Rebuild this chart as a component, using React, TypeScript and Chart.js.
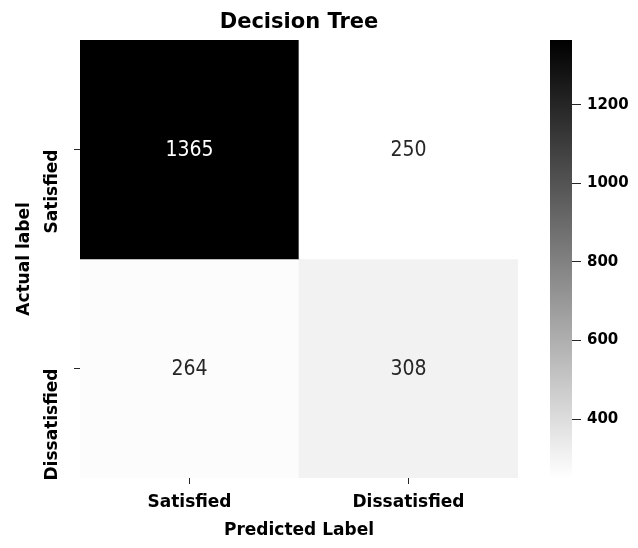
import React, { useEffect, useRef } from 'react';
import { Chart, registerables } from 'chart.js';

Chart.register(...registerables);

// ---- data ----
const predictedLabels = ['Satisfied', 'Dissatisfied'];
const actualLabels = ['Satisfied', 'Dissatisfied'];
const rowSatisfied = [1365, 250];
const rowDissatisfied = [264, 308];
const matrixRows = [rowSatisfied, rowDissatisfied];
const colorbarTicks = [400, 600, 800, 1000, 1200];
const chartTitle = 'Decision Tree';
const xTitle = 'Predicted Label';
const yTitle = 'Actual label';

const allValues = matrixRows.flat();
const vmin = Math.min(...allValues);
const vmax = Math.max(...allValues);

function grayLevel(v: number): number {
  const t = (v - vmin) / (vmax - vmin);
  return Math.round(255 * (1 - t));
}
function grayFor(v: number): string {
  const g = grayLevel(v);
  return `rgb(${g},${g},${g})`;
}

const FONT = 'DejaVu Sans';
const TICK_COLOR = '#262626';

export default function App() {
  const mainRef = useRef<HTMLCanvasElement | null>(null);
  const cbRef = useRef<HTMLCanvasElement | null>(null);

  useEffect(() => {
    Chart.defaults.font.family = FONT;
    const nRows = matrixRows.length;

    const annotate = {
      id: 'annotate',
      afterDatasetsDraw(chart: any) {
        const ctx = chart.ctx;
        ctx.save();
        ctx.font = `21px "DejaVu Sans Condensed", "DejaVu Sans", sans-serif`;
        ctx.textAlign = 'center';
        ctx.textBaseline = 'middle';
        chart.data.datasets.forEach((_ds: any, i: number) => {
          const meta = chart.getDatasetMeta(i);
          meta.data.forEach((bar: any, j: number) => {
            const v = matrixRows[i][j];
            const { x, y, base } = bar.getProps(['x', 'y', 'base'], true);
            ctx.fillStyle = grayLevel(v) < 128 ? '#ffffff' : TICK_COLOR;
            ctx.fillText(String(v), x, (y + base) / 2 + 1);
          });
        });
        ctx.restore();
      },
    };

    const main = new Chart(mainRef.current as HTMLCanvasElement, {
      type: 'bar',
      data: {
        labels: predictedLabels,
        datasets: matrixRows.map((row, i) => ({
          label: actualLabels[i],
          data: row.map(() => [nRows - 1 - i, nRows - i]),
          backgroundColor: row.map(grayFor),
          borderWidth: 0,
          grouped: false,
          barPercentage: 1,
          categoryPercentage: 1,
        })) as any,
      },
      options: {
        animation: false,
        responsive: false,
        layout: { padding: { left: 0, top: 0, right: 120, bottom: 0 } },
        plugins: { legend: { display: false }, tooltip: { enabled: false } },
        scales: {
          x: {
            type: 'category',
            position: 'bottom',
            grid: { display: true, offset: false, drawOnChartArea: false, drawTicks: true, tickLength: 6, tickColor: TICK_COLOR },
            border: { display: false },
            ticks: { font: { size: 17, weight: 'bold' }, color: '#000', padding: 8, maxRotation: 0 },
            title: { display: true, text: xTitle, font: { size: 17, weight: 'bold' }, color: '#000', padding: { top: 0, bottom: 7 } },
            afterFit: (s: any) => { s.height = 70; },
          },
          xTop: {
            type: 'category',
            position: 'top',
            grid: { display: false },
            border: { display: false },
            ticks: { display: false },
            title: { display: true, text: chartTitle, font: { size: 21, weight: 'bold' }, color: '#000', padding: { top: 10, bottom: 0 } },
            afterFit: (s: any) => { s.height = 40; },
          },
          y: {
            type: 'linear',
            position: 'left',
            min: 0,
            max: nRows,
            afterBuildTicks: (s: any) => {
              s.ticks = actualLabels.map((_l, i) => ({ value: nRows - 1 - i + 0.5 }));
            },
            grid: { display: true, drawOnChartArea: false, drawTicks: true, tickLength: 6, tickColor: TICK_COLOR },
            border: { display: false },
            ticks: {
              font: { size: 17, weight: 'bold' },
              color: '#000',
              padding: 21,
              minRotation: 90,
              maxRotation: 90,
              callback: (v: any) => actualLabels[nRows - 1 - Math.floor(Number(v))],
            },
            title: { display: true, text: yTitle, font: { size: 17, weight: 'bold' }, color: '#000', padding: { top: 14, bottom: 0 } },
            afterFit: (s: any) => { s.width = 80; },
          },
        },
      } as any,
      plugins: [annotate],
    });

    const cb = new Chart(cbRef.current as HTMLCanvasElement, {
      type: 'bar',
      data: {
        labels: [''],
        datasets: [
          {
            data: [[vmin, vmax]] as any,
            backgroundColor: (c: any) => {
              const chart = c.chart;
              const ys = chart.scales && chart.scales.y;
              if (!chart.chartArea || !ys) return '#888';
              const g = chart.ctx.createLinearGradient(0, ys.getPixelForValue(vmin), 0, ys.getPixelForValue(vmax));
              g.addColorStop(0, grayFor(vmin));
              g.addColorStop(1, grayFor(vmax));
              return g;
            },
            borderWidth: 0,
            barPercentage: 1,
            categoryPercentage: 1,
          },
        ],
      },
      options: {
        animation: false,
        responsive: false,
        layout: { padding: { left: 30, top: 40, right: 0, bottom: 70 } },
        plugins: { legend: { display: false }, tooltip: { enabled: false } },
        scales: {
          x: { display: false },
          y: {
            type: 'linear',
            position: 'right',
            min: vmin,
            max: vmax,
            afterBuildTicks: (s: any) => {
              s.ticks = colorbarTicks.map((v) => ({ value: v }));
            },
            grid: { display: true, drawOnChartArea: false, drawTicks: true, tickLength: 9, tickColor: TICK_COLOR },
            border: { display: false },
            ticks: {
              font: { size: 15, weight: 'bold' },
              color: '#000',
              padding: 6,
              callback: (v: any) => String(v),
            },
            afterFit: (s: any) => { s.width = 66; },
          },
        },
      } as any,
    });

    return () => {
      main.destroy();
      cb.destroy();
    };
  }, []);

  return (
    <div style={{ position: 'absolute', left: 0, top: 0, width: 638, height: 548, background: '#fff' }}>
      <canvas ref={mainRef} width={638} height={548} style={{ position: 'absolute', left: 0, top: 0 }} />
      <canvas ref={cbRef} width={118} height={548} style={{ position: 'absolute', left: 520, top: 0 }} />
    </div>
  );
}
